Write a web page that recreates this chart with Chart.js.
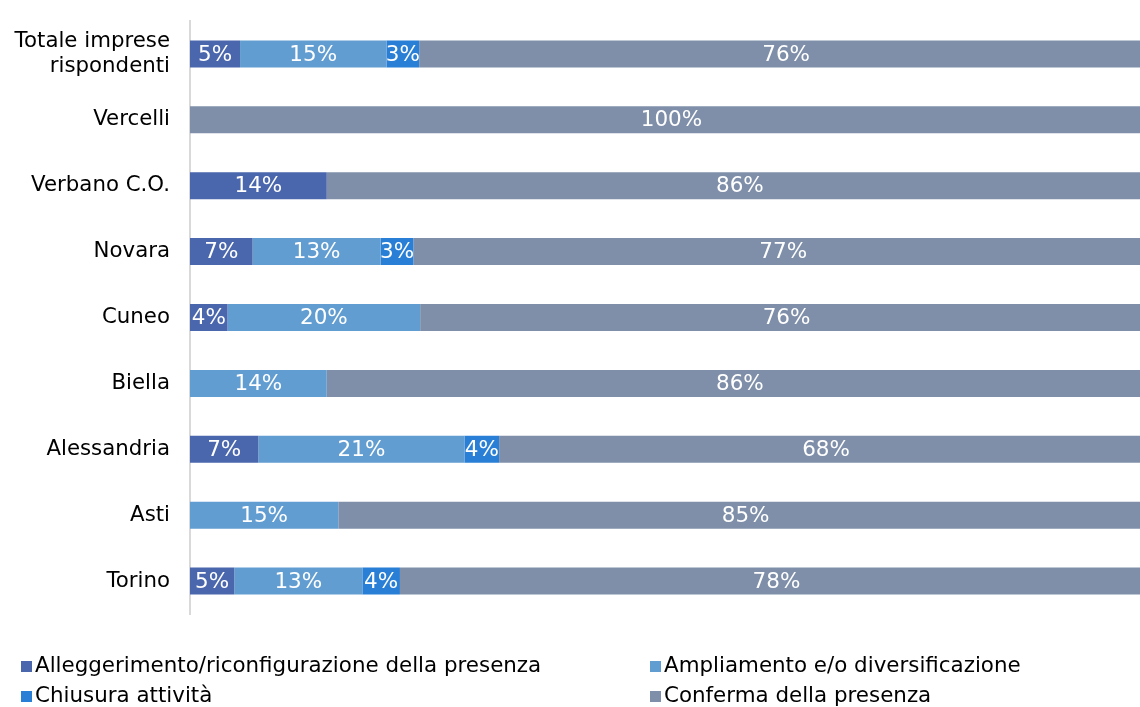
<!DOCTYPE html>
<html>
<head>
<meta charset="utf-8">
<script src="https://cdn.jsdelivr.net/npm/chart.js@4.4.1/dist/chart.umd.min.js"></script>
<style>
  html, body { margin: 0; padding: 0; background: #fff; }
  #wrap { position: relative; width: 1140px; height: 707px; overflow: hidden; }
  #c { position: absolute; left: 0; top: 0; }
  .leg { position: absolute; font-family: "DejaVu Sans", sans-serif; font-size: 21.4px; color: #000; white-space: nowrap; line-height: 24px; }
  .leg span.sw { display: inline-block; width: 11px; height: 11px; margin-right: 3px; vertical-align: 0px; }
</style>
</head>
<body>
<div id="wrap">
  <canvas id="c" width="1153" height="707"></canvas>
  <div id="legend"></div>
</div>
<script>
const categories = ["Totale imprese|rispondenti", "Vercelli", "Verbano C.O.", "Novara", "Cuneo", "Biella", "Alessandria", "Asti", "Torino"];
const seriesNames = ["Alleggerimento/riconfigurazione della presenza", "Ampliamento e/o diversificazione", "Chiusura attività", "Conferma della presenza"];
const alleggerimento = [5.2, 0, 14.2, 6.5, 3.9, 0, 7.1, 0, 4.6];
const ampliamento    = [15.2, 0, 0, 13.3, 20.0, 14.2, 21.4, 15.4, 13.3];
const chiusura       = [3.4, 0, 0, 3.4, 0, 0, 3.6, 0, 3.9];
const conferma       = [76.2, 100, 85.8, 76.8, 76.1, 85.8, 67.9, 84.6, 78.2];
const colors = ["#4A66AC", "#629DD1", "#297FD5", "#7F8FA9"];
const xTicks = [0, 100];

const seriesValues = [alleggerimento, ampliamento, chiusura, conferma];

const labelPlugin = {
  id: 'segLabels',
  afterDatasetsDraw(chart) {
    const ctx = chart.ctx;
    ctx.save();
    ctx.font = '21.5px "DejaVu Sans", sans-serif';
    ctx.fillStyle = '#ffffff';
    ctx.textAlign = 'center';
    ctx.textBaseline = 'middle';
    chart.data.datasets.forEach((ds, di) => {
      const meta = chart.getDatasetMeta(di);
      meta.data.forEach((el, i) => {
        const v = ds.data[i];
        if (!v) return;
        const cx = (el.x + el.base) / 2;
        ctx.fillText(Math.round(v) + '%', cx, el.y + 1);
      });
    });
    ctx.restore();
  }
};

new Chart(document.getElementById('c'), {
  type: 'bar',
  data: {
    labels: categories.map(c => c.split('|')),
    datasets: seriesNames.map((n, i) => ({
      label: n,
      data: seriesValues[i],
      backgroundColor: colors[i],
      borderWidth: 0,
      categoryPercentage: 1,
      barPercentage: 0.41
    }))
  },
  options: {
    indexAxis: 'y',
    responsive: false,
    animation: false,
    layout: { padding: { top: 21, bottom: 93, left: 0, right: 0 } },
    plugins: { legend: { display: false }, tooltip: { enabled: false } },
    scales: {
      x: {
        stacked: true, min: xTicks[0], max: xTicks[1], display: false
      },
      y: {
        stacked: true,
        grid: { display: false, drawTicks: false },
        border: { display: true, color: '#d9d9d9', width: 2 },
        ticks: {
          color: '#000', padding: 20,
          font: { family: '"DejaVu Sans", sans-serif', size: 21.3, lineHeight: 1.17 }
        },
        afterFit(scale) { scale.width = 190; scale.paddingTop = 0; scale.paddingBottom = 0; }
      }
    }
  },
  plugins: [labelPlugin]
});

const legendPos = [[21, 653], [650, 653], [21, 683], [650, 683]];
const legendEl = document.getElementById('legend');
seriesNames.forEach((n, i) => {
  const d = document.createElement('div');
  d.className = 'leg';
  d.style.left = legendPos[i][0] + 'px';
  d.style.top = legendPos[i][1] + 'px';
  d.innerHTML = '<span class="sw" style="background:' + colors[i] + '"></span>' + n;
  legendEl.appendChild(d);
});
</script>
</body>
</html>
